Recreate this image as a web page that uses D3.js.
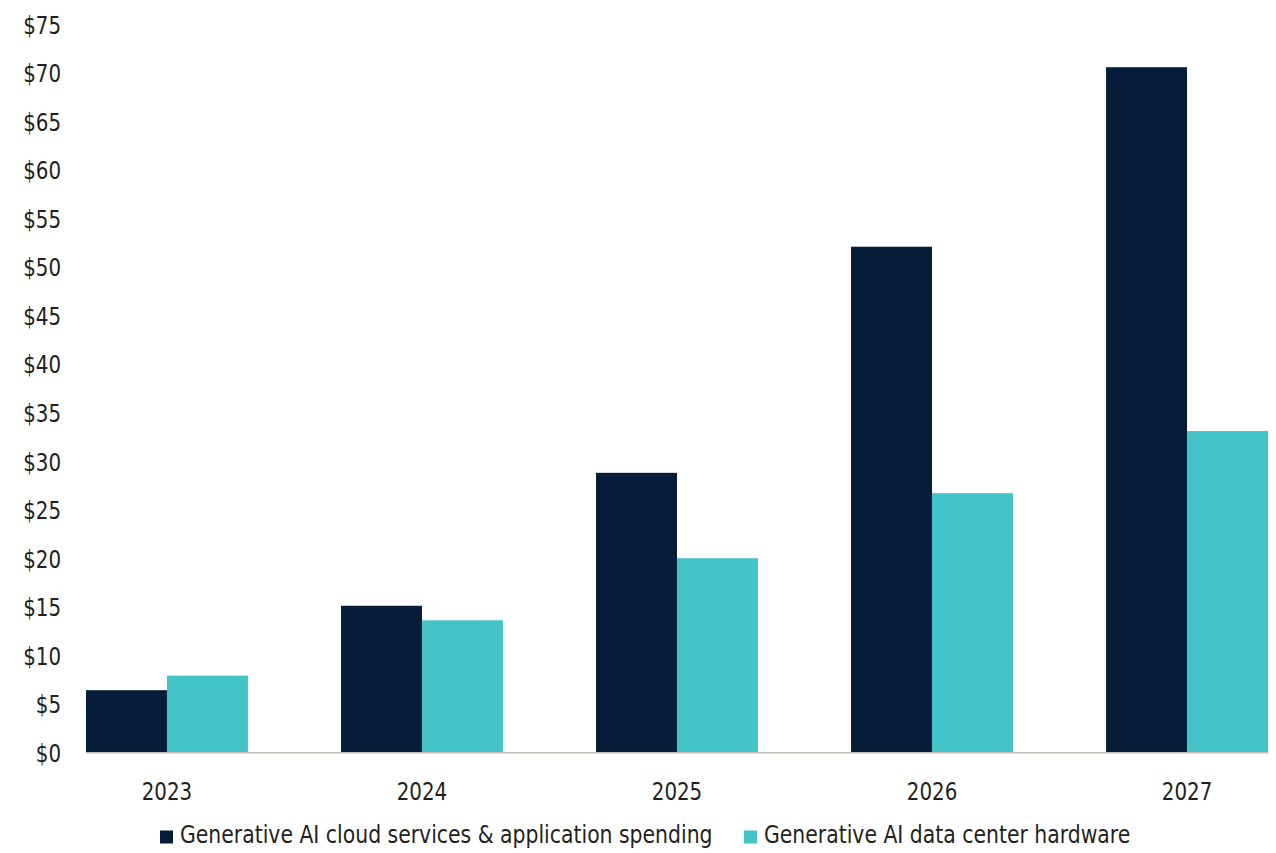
<!DOCTYPE html>
<html>
<head>
<meta charset="utf-8">
<script src="https://cdn.jsdelivr.net/npm/d3@7"></script>
<style>
  html, body { margin: 0; padding: 0; background: #ffffff; }
  svg { display: block; }
  text { font-family: "DejaVu Sans Condensed", "DejaVu Sans", sans-serif; font-stretch: condensed; fill: #231f20; }
</style>
</head>
<body>
<svg id="chart" width="1276" height="853"></svg>
<script>
// Spending by year, in billions of US dollars
const years = ["2023", "2024", "2025", "2026", "2027"];
const cloudSpending = [6.4, 15.1, 28.8, 52.1, 70.6];
const hardwareSpending = [7.9, 13.6, 20.0, 26.7, 33.1];
const seriesNames = ["Generative AI cloud services & application spending", "Generative AI data center hardware"];
const seriesColors = ["#061d39", "#41c3c8"];
const yTicks = [0, 5, 10, 15, 20, 25, 30, 35, 40, 45, 50, 55, 60, 65, 70, 75];

const svg = d3.select("#chart");
const plot = { left: 86, right: 1268, top: 24.5, bottom: 752.3 };
const fontSize = "24.5px";

// horizontal squeeze to get a narrow face
function narrow(factor) {
  return sel => sel.each(function () {
    const w = this.getComputedTextLength();
    d3.select(this).attr("textLength", w * factor).attr("lengthAdjust", "spacingAndGlyphs");
  });
}

const x = d3.scaleBand()
  .domain(years)
  .range([plot.left, plot.right])
  .paddingInner(0.365)
  .paddingOuter(0);

const xSub = d3.scaleBand()
  .domain([0, 1])
  .range([0, x.bandwidth()]);

const y = d3.scaleLinear()
  .domain([0, 75])
  .range([plot.bottom, plot.top]);

// Y axis: labels only, no line or ticks
const yAxis = svg.append("g")
  .attr("transform", `translate(${plot.left - 25},0)`)
  .call(d3.axisLeft(y).tickValues(yTicks).tickFormat(d => "$" + d).tickSize(0).tickPadding(0));
yAxis.select(".domain").remove();
yAxis.selectAll("text")
  .style("font-size", fontSize)
  .attr("dy", "0.36em")
  .call(narrow(0.9));

// Bars
const rows = years.map((yr, i) => ({ year: yr, values: [cloudSpending[i], hardwareSpending[i]] }));
const groups = svg.append("g").selectAll("g")
  .data(rows)
  .join("g")
  .attr("transform", d => `translate(${x(d.year)},0)`);

groups.selectAll("rect")
  .data(d => d.values.map((v, k) => ({ k, v })))
  .join("rect")
  .attr("x", d => xSub(d.k))
  .attr("width", xSub.bandwidth())
  .attr("y", d => y(d.v))
  .attr("height", d => y(0) - y(d.v))
  .attr("fill", d => seriesColors[d.k]);

// X axis
const xAxis = svg.append("g")
  .attr("transform", `translate(0,${plot.bottom})`)
  .call(d3.axisBottom(x).tickSize(0).tickPadding(30));
xAxis.select(".domain")
  .attr("stroke", "#c9c2b8")
  .attr("stroke-width", 1.5);
xAxis.selectAll("text")
  .style("font-size", fontSize)
  .call(narrow(0.9));

// Legend
const legendItems = [
  { name: seriesNames[0], color: seriesColors[0], x: 160 },
  { name: seriesNames[1], color: seriesColors[1], x: 744 }
];
const legend = svg.append("g").selectAll("g")
  .data(legendItems)
  .join("g")
  .attr("transform", d => `translate(${d.x},843)`);
legend.append("rect")
  .attr("x", 0).attr("y", -12.5)
  .attr("width", 13).attr("height", 13)
  .attr("fill", d => d.color);
legend.append("text")
  .attr("x", 20)
  .style("font-size", fontSize)
  .text(d => d.name)
  .call(narrow(0.925));
</script>
</body>
</html>
